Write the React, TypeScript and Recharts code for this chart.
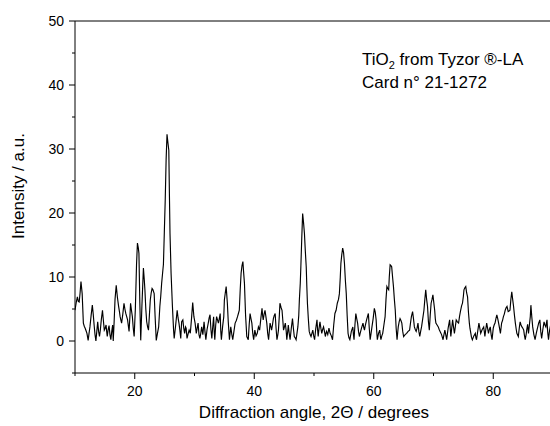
import React from 'react';
import { LineChart, Line, XAxis, YAxis, ReferenceLine } from 'recharts';

// Diffraction pattern, [2θ (degrees), intensity (a.u.)]
const pattern10to20: [number, number][] = [
  [10.0, 4.8], [10.2, 6.0], [10.4, 6.9], [10.55, 6.2], [10.7, 6.1], [10.85, 7.5], [11.0, 9.3], [11.2, 7.4],
  [11.4, 2.8], [11.55, 2.3], [11.7, 2.0], [11.85, 1.6], [12.0, 1.2], [12.2, 0.1], [12.35, 1.2], [12.5, 2.2],
  [12.7, 4.0], [12.9, 5.6], [13.05, 4.2], [13.2, 2.5], [13.35, 1.0], [13.5, 0], [13.65, 1.5], [13.8, 3.0],
  [13.95, 1.5], [14.1, 0.7], [14.25, 1.8], [14.4, 3.3], [14.6, 4.8], [14.75, 3.2], [14.9, 1.7], [15.05, 2.0],
  [15.2, 2.5], [15.3, 1.5], [15.4, 0.7], [15.55, 1.8], [15.7, 2.4], [15.85, 1.0], [16.0, 0.2], [16.15, 1.5],
  [16.3, 2.5], [16.4, 0], [16.55, 3.0], [16.7, 6.5], [16.9, 8.7], [17.1, 6.8], [17.3, 5.4], [17.45, 4.5],
  [17.55, 3.8], [17.7, 3.2], [17.8, 2.8], [18.0, 4.2], [18.2, 5.9], [18.35, 5.0], [18.5, 4.3], [18.65, 3.8],
  [18.8, 3.3], [18.95, 2.2], [19.05, 1.5], [19.2, 4.0], [19.3, 5.9], [19.45, 4.8], [19.6, 3.8], [19.75, 2.0],
  [19.9, 0.7],
];

const pattern20to30: [number, number][] = [
  [20.1, 5.0], [20.3, 12.0], [20.45, 15.3], [20.6, 14.5], [20.7, 13.7], [20.85, 6.0], [21.0, 0.1], [21.2, 5.5],
  [21.45, 11.4], [21.6, 9.5], [21.7, 8.0], [21.85, 5.0], [22.0, 3.0], [22.15, 2.2], [22.3, 1.7], [22.45, 4.0],
  [22.6, 6.4], [22.75, 7.5], [22.9, 8.2], [23.05, 8.0], [23.25, 7.4], [23.4, 4.0], [23.6, 0.1], [23.8, 1.2],
  [24.0, 2.2], [24.2, 5.4], [24.35, 7.0], [24.5, 9.0], [24.65, 10.5], [24.8, 12.0], [24.95, 17.0], [25.1, 22.0],
  [25.25, 28.3], [25.4, 32.3], [25.55, 31.0], [25.7, 29.8], [25.8, 23.0], [25.9, 16.8], [26.08, 10.6], [26.3, 5.5],
  [26.5, 1.7], [26.6, 0.4], [26.85, 2.5], [27.1, 4.8], [27.25, 3.6], [27.4, 2.8], [27.55, 1.7], [27.7, 0.4],
  [27.85, 3.0], [28.05, 3.3], [28.2, 2.0], [28.35, 1.2], [28.5, 2.2], [28.6, 2.0], [28.75, 0.4], [28.9, 1.0],
  [29.1, 1.7], [29.3, 1.2], [29.5, 3.5], [29.7, 6.0], [29.9, 3.8],
];

const pattern30to40: [number, number][] = [
  [30.1, 2.8], [30.3, 1.2], [30.45, 2.0], [30.6, 2.8], [30.75, 1.0], [30.9, 0.4], [31.05, 1.2], [31.2, 2.2],
  [31.4, 1.0], [31.6, 3.0], [31.75, 1.5], [31.9, 0.2], [32.1, 1.8], [32.3, 2.8], [32.45, 3.6], [32.6, 4.1],
  [32.75, 1.8], [32.9, 0.4], [33.05, 2.2], [33.2, 3.8], [33.3, 1.5], [33.4, 0.2], [33.55, 2.5], [33.7, 3.8],
  [33.85, 3.3], [34.0, 2.8], [34.15, 3.5], [34.3, 4.3], [34.4, 1.5], [34.5, 0.2], [34.7, 2.2], [34.9, 3.8],
  [35.0, 6.4], [35.15, 7.5], [35.3, 8.5], [35.5, 5.9], [35.65, 3.0], [35.85, 0.2], [36.07, 2.2], [36.25, 1.0],
  [36.4, 0.2], [36.6, 1.5], [36.8, 2.8], [37.0, 3.2], [37.2, 3.8], [37.35, 4.3], [37.5, 4.8], [37.65, 8.0],
  [37.8, 10.6], [37.95, 11.8], [38.1, 12.4], [38.2, 11.0], [38.36, 9.0], [38.55, 4.0], [38.75, 0.7], [39.0, 0.2],
  [39.15, 2.5], [39.3, 4.3], [39.45, 3.5], [39.6, 2.8], [39.75, 1.2], [39.9, 0.2],
];

const pattern40to50: [number, number][] = [
  [40.1, 1.7], [40.3, 0.8], [40.5, 1.2], [40.7, 2.2], [40.9, 1.7], [41.1, 3.5], [41.3, 5.1], [41.4, 4.0],
  [41.5, 3.3], [41.65, 4.2], [41.8, 4.8], [41.95, 3.8], [42.1, 2.8], [42.25, 1.2], [42.4, 0.2], [42.55, 1.8],
  [42.65, 2.8], [42.8, 2.2], [42.9, 1.7], [43.05, 2.5], [43.2, 3.5], [43.35, 4.0], [43.5, 4.3], [43.65, 2.0],
  [43.8, 0.2], [43.95, 1.0], [44.05, 1.7], [44.2, 4.0], [44.3, 5.9], [44.5, 5.2], [44.65, 4.8], [44.8, 3.0],
  [44.9, 1.7], [45.05, 2.2], [45.2, 2.8], [45.35, 1.5], [45.45, 0.2], [45.6, 1.5], [45.7, 2.5], [45.85, 1.2],
  [46.0, 0.2], [46.2, 2.0], [46.4, 3.5], [46.55, 2.0], [46.7, 0.7], [46.85, 0.5], [47.0, 0.2], [47.15, 1.2],
  [47.3, 2.2], [47.45, 4.0], [47.55, 6.4], [47.7, 9.0], [47.8, 11.6], [47.95, 16.0], [48.1, 19.9], [48.25, 18.5],
  [48.4, 16.8], [48.55, 14.0], [48.7, 11.6], [48.8, 8.5], [48.9, 5.9], [49.05, 3.5], [49.2, 1.5], [49.35, 1.0],
  [49.5, 0.7], [49.65, 1.2], [49.8, 1.7], [49.95, 0.8],
];

const pattern50to60: [number, number][] = [
  [50.1, 0.2], [50.3, 2.0], [50.5, 3.3], [50.6, 1.8], [50.7, 0.7], [50.85, 2.0], [51.0, 3.0], [51.15, 2.0],
  [51.3, 1.2], [51.45, 1.8], [51.6, 2.2], [51.75, 1.5], [51.9, 0.7], [52.0, 1.2], [52.1, 1.5], [52.3, 1.0],
  [52.5, 2.0], [52.7, 1.2], [52.9, 0.8], [53.1, 0.2], [53.3, 2.5], [53.5, 4.3], [53.7, 4.8], [53.9, 5.9],
  [54.1, 6.5], [54.25, 7.4], [54.4, 10.0], [54.5, 12.1], [54.65, 13.5], [54.8, 14.5], [54.95, 13.8], [55.1, 12.1],
  [55.25, 9.5], [55.4, 7.4], [55.55, 4.0], [55.7, 1.2], [55.85, 0.5], [56.0, 0.2], [56.25, 1.5], [56.5, 2.2],
  [56.6, 1.0], [56.7, 0.2], [56.85, 2.5], [57.0, 4.3], [57.15, 3.5], [57.3, 2.8], [57.45, 1.5], [57.6, 0.7],
  [57.72, 1.2], [57.95, 2.0], [58.2, 2.8], [58.35, 2.0], [58.45, 1.7], [58.6, 2.5], [58.8, 3.3], [58.95, 3.8],
  [59.1, 4.3], [59.25, 2.0], [59.4, 0.2], [59.55, 1.2], [59.7, 2.2], [59.9, 3.5],
];

const pattern60to70: [number, number][] = [
  [60.1, 5.1], [60.25, 4.5], [60.4, 3.3], [60.5, 1.5], [60.6, 0.2], [60.8, 1.2], [61.0, 1.7], [61.1, 0.8],
  [61.2, 0.2], [61.35, 0.8], [61.5, 1.2], [61.7, 2.5], [61.9, 3.8], [62.05, 6.5], [62.2, 8.5], [62.35, 8.2],
  [62.5, 8.0], [62.6, 10.0], [62.74, 11.9], [62.85, 11.8], [63.0, 11.6], [63.15, 10.0], [63.3, 8.5], [63.45, 6.5],
  [63.6, 4.8], [63.75, 2.0], [63.9, 0.2], [64.0, 1.2], [64.1, 2.2], [64.25, 3.0], [64.4, 3.5], [64.55, 3.2],
  [64.7, 2.8], [64.85, 1.5], [65.0, 0.7], [65.25, 1.0], [65.5, 1.2], [65.75, 1.5], [66.0, 1.7], [66.15, 2.8],
  [66.3, 3.8], [66.5, 4.6], [66.65, 3.5], [66.8, 2.2], [66.95, 1.8], [67.1, 1.5], [67.25, 2.0], [67.4, 2.8],
  [67.55, 1.5], [67.7, 0.7], [67.85, 1.5], [68.0, 2.2], [68.2, 3.5], [68.4, 4.8], [68.55, 6.5], [68.7, 8.0],
  [68.85, 6.5], [69.0, 5.4], [69.15, 3.0], [69.3, 1.7], [69.45, 4.0], [69.6, 5.9], [69.75, 6.5], [69.9, 7.2],
];

const pattern70to80: [number, number][] = [
  [70.05, 6.0], [70.2, 4.8], [70.3, 3.5], [70.4, 2.8], [70.6, 2.5], [70.8, 2.2], [70.95, 1.8], [71.1, 1.5],
  [71.35, 1.0], [71.6, 0.2], [71.75, 1.0], [71.9, 1.7], [72.05, 1.0], [72.2, 0.2], [72.45, 2.0], [72.7, 3.3],
  [72.8, 2.0], [72.9, 0.7], [73.05, 2.0], [73.2, 3.3], [73.35, 2.2], [73.5, 1.2], [73.65, 2.2], [73.8, 3.3],
  [74.0, 3.0], [74.2, 2.8], [74.35, 3.8], [74.5, 4.6], [74.7, 5.5], [74.85, 5.9], [75.0, 7.0], [75.1, 8.0],
  [75.25, 8.3], [75.4, 8.5], [75.55, 7.5], [75.7, 6.9], [75.85, 4.5], [76.0, 2.8], [76.1, 2.0], [76.25, 1.2],
  [76.35, 0.6], [76.5, 0.2], [76.75, 0.8], [77.0, 1.2], [77.1, 0.5], [77.2, 0.2], [77.4, 1.5], [77.6, 2.8],
  [77.75, 2.0], [77.9, 1.2], [78.15, 1.8], [78.4, 2.2], [78.5, 1.5], [78.6, 0.7], [78.75, 1.8], [78.9, 2.8],
  [79.05, 2.0], [79.2, 1.2], [79.35, 1.8], [79.5, 2.2], [79.65, 1.0], [79.8, 0.2],
];

const pattern80to90: [number, number][] = [
  [80.0, 2.0], [80.15, 2.5], [80.3, 2.8], [80.45, 3.5], [80.6, 4.1], [80.75, 3.5], [80.9, 2.8], [81.05, 2.0],
  [81.2, 1.2], [81.3, 2.0], [81.4, 2.8], [81.55, 3.2], [81.7, 3.8], [81.85, 4.2], [82.0, 4.8], [82.15, 5.2],
  [82.3, 5.4], [82.4, 5.0], [82.5, 4.6], [82.65, 4.7], [82.8, 4.8], [82.95, 6.5], [83.1, 7.7], [83.25, 6.5],
  [83.4, 5.4], [83.55, 4.0], [83.7, 2.8], [83.85, 1.8], [83.95, 1.2], [84.1, 0.9], [84.2, 0.7], [84.35, 2.0],
  [84.5, 3.0], [84.65, 2.5], [84.8, 2.2], [84.95, 2.0], [85.1, 1.7], [85.2, 1.0], [85.35, 0.2], [85.5, 1.0],
  [85.6, 1.7], [85.75, 2.6], [85.9, 1.2], [86.05, 2.5], [86.2, 3.8], [86.3, 5.6], [86.45, 3.8], [86.6, 2.2],
  [86.8, 1.0], [87.0, 0.2], [87.2, 1.2], [87.4, 2.0], [87.6, 2.8], [87.8, 3.3], [87.95, 1.5], [88.1, 0.4],
  [88.3, 1.8], [88.5, 3.0], [88.65, 2.5], [88.8, 2.2], [88.9, 2.8], [89.0, 3.3], [89.1, 1.5], [89.25, 0.2],
  [89.4, 1.5], [89.6, 2.5],
];

const xTicks = [10, 20, 30, 40, 50, 60, 70, 80, 90];
const xLabelled = [20, 40, 60, 80];
const yTicks = [-5, 0, 5, 10, 15, 20, 25, 30, 35, 40, 45, 50];
const yLabelled = [0, 10, 20, 30, 40, 50];

const xTitle = 'Diffraction angle, 2\u0398 / degrees';
const yTitle = 'Intensity / a.u.';
const noteLine1 = ['TiO', '2', ' from Tyzor \u00AE-LA'];
const noteLine2 = 'Card n\u00B0 21-1272';

const data = [
  ...pattern10to20, ...pattern20to30, ...pattern30to40, ...pattern40to50,
  ...pattern50to60, ...pattern60to70, ...pattern70to80, ...pattern80to90,
].map(([x, y]) => ({ x, y }));

const FONT = '"Liberation Sans", Arial, Helvetica, sans-serif';

const XTick = (props: any) => {
  const { x, y, payload } = props;
  const v = payload.value;
  const major = xLabelled.includes(v);
  return (
    <g>
      <line x1={x} x2={x} y1={y} y2={y + (major ? 6 : 3)} stroke="#000" strokeWidth={1} />
      {major && (
        <text x={x} y={y + 23} textAnchor="middle" fontSize={14} fontFamily={FONT} fill="#000">
          {v}
        </text>
      )}
    </g>
  );
};

const YTick = (props: any) => {
  const { x, y, payload } = props;
  const v = payload.value;
  const major = yLabelled.includes(v);
  return (
    <g>
      <line x1={x - (major ? 6 : 3)} x2={x} y1={y} y2={y} stroke="#000" strokeWidth={1} />
      {major && (
        <text x={x - 11} y={y + 5} textAnchor="end" fontSize={14} fontFamily={FONT} fill="#000">
          {v}
        </text>
      )}
    </g>
  );
};

export default function App() {
  return (
    <div
      style={{
        position: 'absolute',
        left: 0,
        top: 0,
        width: 550,
        height: 426,
        overflow: 'hidden',
        background: '#fff',
      }}
    >
      <LineChart
        width={600}
        height={426}
        data={data}
        margin={{ top: 21, right: 47, bottom: 0, left: 0 }}
      >
        <XAxis
          type="number"
          dataKey="x"
          domain={[10, 90]}
          ticks={xTicks}
          interval={0}
          height={53}
          tickSize={0}
          tickMargin={0}
          tickLine={false}
          axisLine={{ stroke: '#000', strokeWidth: 1 }}
          tick={XTick}
          allowDataOverflow
        />
        <YAxis
          type="number"
          domain={[-5, 50]}
          ticks={yTicks}
          interval={0}
          width={75}
          tickSize={0}
          tickMargin={0}
          tickLine={false}
          axisLine={{ stroke: '#000', strokeWidth: 1 }}
          tick={YTick}
          allowDataOverflow
        />
        <ReferenceLine y={50} stroke="#000" strokeWidth={1} ifOverflow="visible" />
        <ReferenceLine x={90} stroke="#000" strokeWidth={1} ifOverflow="visible" />
        <Line
          type="linear"
          dataKey="y"
          stroke="#000"
          strokeWidth={1.15}
          dot={false}
          activeDot={false}
          isAnimationActive={false}
        />
      </LineChart>
      <svg
        width={550}
        height={426}
        style={{ position: 'absolute', left: 0, top: 0, pointerEvents: 'none' }}
      >
        <text x={314} y={418} textAnchor="middle" fontSize={17} fontFamily={FONT} fill="#000">
          {xTitle}
        </text>
        <text
          x={24}
          y={186}
          textAnchor="middle"
          fontSize={17}
          fontFamily={FONT}
          fill="#000"
          transform="rotate(-90 24 186)"
        >
          {yTitle}
        </text>
        <text x={362} y={65} fontSize={17} fontFamily={FONT} fill="#000">
          {noteLine1[0]}
          <tspan fontSize={11} dy={4}>{noteLine1[1]}</tspan>
          <tspan dy={-4}>{noteLine1[2]}</tspan>
        </text>
        <text x={362} y={88} fontSize={17} fontFamily={FONT} fill="#000">
          {noteLine2}
        </text>
      </svg>
    </div>
  );
}
